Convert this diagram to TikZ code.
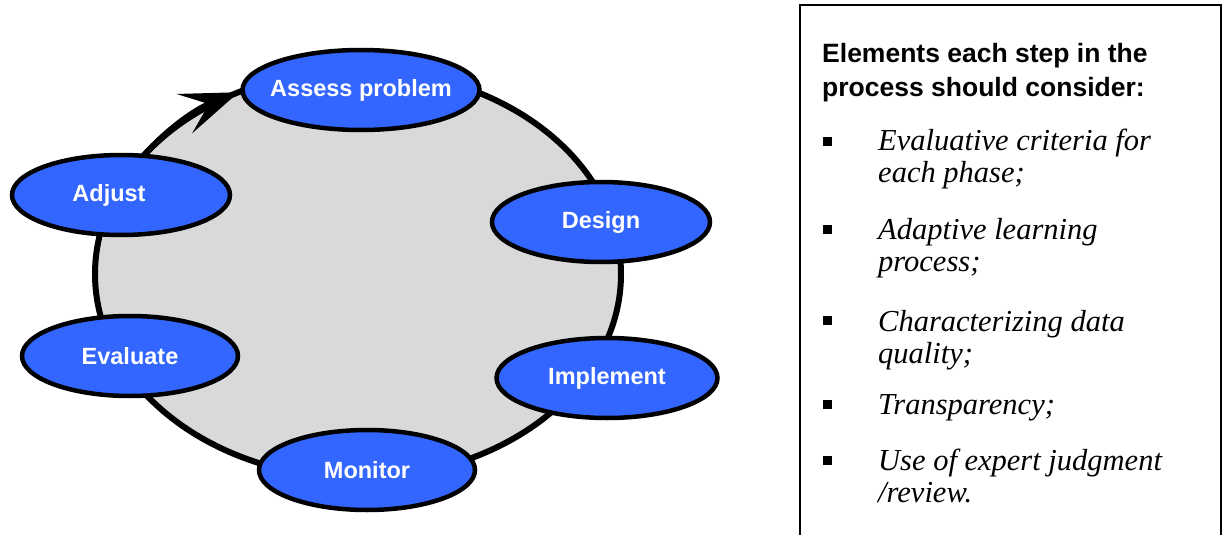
\documentclass[tikz,border=0pt]{standalone}
\usepackage{fontspec}
\setmainfont{Liberation Serif}
\setsansfont{Liberation Sans}
\usetikzlibrary{arrows.meta,shapes.geometric,calc}
\definecolor{stepblue}{RGB}{51,102,255}
\definecolor{ringgray}{RGB}{217,217,217}
\newcommand\steptext[1]{\makebox[0pt]{#1}}
\begin{document}
\begin{tikzpicture}[x=1pt,y=-1pt,
  stepnode/.style={ellipse, draw=black, line width=4.5pt, fill=stepblue,
    minimum width=#1, minimum height=80pt, inner sep=0pt, text=white,
    font=\sffamily\bfseries\fontsize{23.5}{26}\selectfont},
  ringline/.style={line width=6pt, draw=black},
  headtext/.style={anchor=base west, inner sep=0pt, font=\sffamily\bfseries\fontsize{26.5}{30}\selectfont},
  itemtext/.style={anchor=base west, inner sep=0pt, font=\itshape\fontsize{30.5}{32}\selectfont},
  bulletsq/.style={fill=black, minimum size=9pt, inner sep=0pt}]
\useasboundingbox (0,0) rectangle (1227,535);
% ring
\coordinate (ringc) at (358,274);
\path[ringline, fill=ringgray] (ringc) ellipse [x radius=263, y radius=204];
\coordinate (arrowtail) at ($(ringc)+(-152:263 and 204)$);
\draw[ringline, -{Stealth[length=58pt,width=42pt,inset=26pt]}]
  (arrowtail) arc[start angle=-152, end angle=-117, x radius=263, y radius=204];
% nodes
\node[stepnode=237] (assess) at (361,90) {\steptext{Assess problem}};
\node[stepnode=218] (adjust) at (121,195) {\steptext{\hspace{-24pt}Adjust}};
\node[stepnode=218] (design) at (601,222) {\steptext{Design}};
\node[stepnode=216] (evaluate) at (130,356) {\steptext{Evaluate}};
\node[stepnode=221] (implement) at (607,378) {\steptext{Implement}};
\node[stepnode=216] (monitor) at (367,470) {\steptext{Monitor}};
% text box
\draw[line width=2pt, black] (800,545) -- (800,5) -- (1221,5) -- (1221,545);
\node[headtext] (h1) at (822,63) {Elements each step in the};
\node[headtext] (h2) at (822,96) {process should consider:};
\node[bulletsq] (b1) at (827,141) {};
\node[bulletsq] (b2) at (827,229) {};
\node[bulletsq] (b3) at (827,320) {};
\node[bulletsq] (b4) at (827,404) {};
\node[bulletsq] (b5) at (827,460) {};
\node[itemtext] (i1a) at (878,150) {Evaluative criteria for};
\node[itemtext] (i1b) at (878,182) {each phase;};
\node[itemtext] (i2a) at (878,239) {Adaptive learning};
\node[itemtext] (i2b) at (878,271) {process;};
\node[itemtext] (i3a) at (878,331) {Characterizing data};
\node[itemtext] (i3b) at (878,363) {quality;};
\node[itemtext] (i4) at (878,414) {Transparency;};
\node[itemtext] (i5a) at (878,470) {Use of expert judgment};
\node[itemtext] (i5b) at (878,502) {/review.};
\end{tikzpicture}
\end{document}
